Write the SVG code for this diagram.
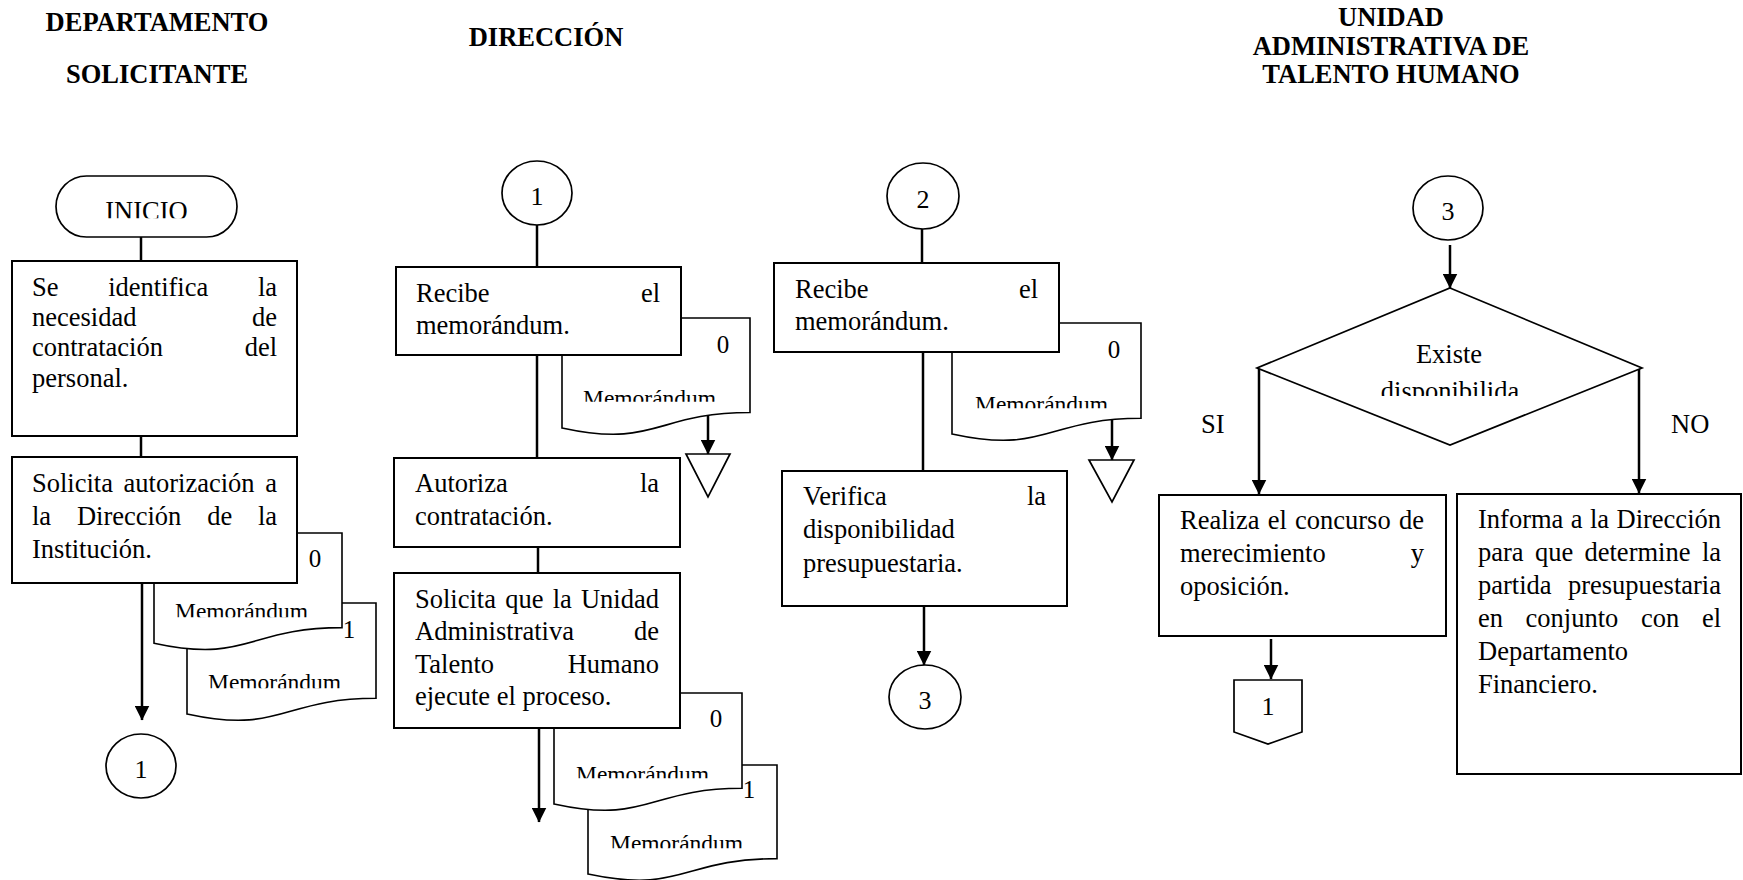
<svg xmlns="http://www.w3.org/2000/svg" width="1743" height="880" viewBox="0 0 1743 880">
<style>
text{font-family:"Liberation Serif","Times New Roman",serif;fill:#000}
.h{font-weight:bold;font-size:26.5px;text-anchor:middle}
.t{font-size:26.5px}
.e{text-anchor:end}
.c{text-anchor:middle}
.m{font-size:23.5px}
.d{font-size:25px;text-anchor:middle}
.n{font-size:26px;text-anchor:middle}
.box{fill:#fff;stroke:#000;stroke-width:2}
.doc{fill:#fff;stroke:#000;stroke-width:1.6}
.sh{fill:#fff;stroke:#000;stroke-width:1.7}
.ln{stroke:#000;stroke-width:2.5;fill:none}
.ar{marker-end:url(#ah)}
</style>
<defs>
<marker id="ah" markerUnits="userSpaceOnUse" markerWidth="15" markerHeight="15" viewBox="0 0 15 15" refX="14.5" refY="7.5" orient="auto"><path d="M0,0 L15,7.5 L0,15 Z" fill="#000"/></marker>
<clipPath id="k1"><rect x="0" y="0" width="1743" height="617.3"/></clipPath>
<clipPath id="k2"><rect x="0" y="0" width="1743" height="688.3"/></clipPath>
<clipPath id="k3"><rect x="0" y="0" width="1743" height="401.7"/></clipPath>
<clipPath id="k4"><rect x="0" y="0" width="1743" height="778.3"/></clipPath>
<clipPath id="k5"><rect x="0" y="0" width="1743" height="848.3"/></clipPath>
<clipPath id="k6"><rect x="0" y="0" width="1743" height="408.3"/></clipPath>
<clipPath id="k7"><rect x="0" y="0" width="1743" height="218.3"/></clipPath>
<clipPath id="k8"><rect x="0" y="0" width="1743" height="396"/></clipPath>
</defs>
<rect x="0" y="0" width="1743" height="880" fill="#fff"/>

<g id="headers">
<text class="h" x="157" y="31">DEPARTAMENTO</text>
<text class="h" x="157" y="83">SOLICITANTE</text>
<text class="h" x="546" y="46">DIRECCIÓN</text>
<text class="h" x="1391" y="26">UNIDAD</text>
<text class="h" x="1391" y="55">ADMINISTRATIVA DE</text>
<text class="h" x="1391" y="83">TALENTO HUMANO</text>
</g>

<g id="connectors">
<line class="ln" x1="141" y1="237" x2="141" y2="262"/>
<line class="ln" x1="141" y1="436" x2="141" y2="458"/>
<line class="ln ar" x1="142" y1="583" x2="142" y2="720"/>
<line class="ln" x1="537" y1="225" x2="537" y2="268"/>
<line class="ln" x1="537" y1="355" x2="537" y2="459"/>
<line class="ln" x1="538" y1="547" x2="538" y2="574"/>
<line class="ln ar" x1="539" y1="728" x2="539" y2="822"/>
<line class="ln ar" x1="708" y1="412" x2="708" y2="454"/>
<line class="ln" x1="922" y1="229" x2="922" y2="264"/>
<line class="ln" x1="923" y1="352" x2="923" y2="472"/>
<line class="ln ar" x1="924" y1="606" x2="924" y2="665"/>
<line class="ln ar" x1="1112" y1="418" x2="1112" y2="460"/>
<line class="ln ar" x1="1450" y1="245" x2="1450" y2="288"/>
<line class="ln ar" x1="1259" y1="368" x2="1259" y2="494"/>
<line class="ln ar" x1="1639" y1="368" x2="1639" y2="493"/>
<line class="ln ar" x1="1271" y1="639" x2="1271" y2="679"/>
<text class="t" x="1201" y="433">SI</text>
<text class="t" x="1671" y="433">NO</text>
</g>

<g id="inicio">
<rect class="sh" x="56" y="176" width="181" height="61" rx="30.5" ry="30.5"/>
<text class="t c" x="146.5" y="219.5" clip-path="url(#k7)">INICIO</text>
</g>

<g id="doc-c1-1">
<path class="doc" d="M187,603 H376 V698.3 C281.5,698.3 281.5,734.6 187,714 Z"/>
<text class="d" x="349" y="638">1</text>
<text class="m" x="208" y="689.6" clip-path="url(#k2)">Memorándum</text>
</g>
<g id="doc-c1-0">
<path class="doc" d="M154,533 H342 V627.6 C248,627.6 248,663.7 154,643.2 Z"/>
<text class="d" x="315" y="567">0</text>
<text class="m" x="175" y="618.9" clip-path="url(#k1)">Memorándum</text>
</g>

<g id="box-identifica">
<rect class="box" x="12" y="261" width="285" height="175"/>
<text class="t" x="32" y="296">Se</text>
<text class="t" x="108.2" y="296">identifica</text>
<text class="t e" x="277" y="296">la</text>
<text class="t" x="32" y="326">necesidad</text>
<text class="t e" x="277" y="326">de</text>
<text class="t" x="32" y="356">contratación</text>
<text class="t e" x="277" y="356">del</text>
<text class="t" x="32" y="387">personal.</text>
</g>

<g id="box-solicita-aut">
<rect class="box" x="12" y="457" width="285" height="126"/>
<text class="t" x="32" y="492">Solicita</text>
<text class="t" x="123.6" y="492">autorización</text>
<text class="t e" x="277" y="492">a</text>
<text class="t" x="32" y="525">la</text>
<text class="t" x="76.9" y="525">Dirección</text>
<text class="t" x="207.2" y="525">de</text>
<text class="t e" x="277" y="525">la</text>
<text class="t" x="32" y="558">Institución.</text>
</g>

<g id="conn-c1-1">
<ellipse class="sh" cx="141" cy="766" rx="35" ry="32"/>
<text class="n" x="141" y="778">1</text>
</g>

<g id="conn-c2-1">
<ellipse class="sh" cx="537" cy="193" rx="35" ry="32"/>
<text class="n" x="537" y="205">1</text>
</g>

<g id="doc-c2-r">
<path class="doc" d="M562,318 H750 V412.5 C656,412.5 656,448.5 562,428 Z"/>
<text class="d" x="723" y="353">0</text>
<text class="m" x="583" y="406.3" clip-path="url(#k3)">Memorándum</text>
</g>

<g id="box-recibe-1">
<rect class="box" x="396" y="267" width="285" height="88"/>
<text class="t" x="416" y="302">Recibe</text>
<text class="t e" x="660" y="302">el</text>
<text class="t" x="416" y="334">memorándum.</text>
</g>

<g id="archivo-c2">
<polygon class="sh" points="686,454 730,454 708,497"/>
</g>

<g id="box-autoriza">
<rect class="box" x="394" y="458" width="286" height="89"/>
<text class="t" x="415" y="492">Autoriza</text>
<text class="t e" x="659" y="492">la</text>
<text class="t" x="415" y="525">contratación.</text>
</g>

<g id="doc-c2-1">
<path class="doc" d="M588,765 H777 V858.6 C682.5,858.6 682.5,894.2 588,874 Z"/>
<text class="d" x="749" y="798">1</text>
<text class="m" x="610" y="850.6" clip-path="url(#k5)">Memorándum</text>
</g>
<g id="doc-c2-0">
<path class="doc" d="M554,693 H742 V788.3 C648,788.3 648,824.6 554,804 Z"/>
<text class="d" x="716" y="727">0</text>
<text class="m" x="576" y="781.6" clip-path="url(#k4)">Memorándum</text>
</g>

<g id="box-solicita-uath">
<rect class="box" x="394" y="573" width="286" height="155"/>
<text class="t" x="415" y="608">Solicita</text>
<text class="t" x="505.2" y="608">que</text>
<text class="t" x="552.7" y="608">la</text>
<text class="t e" x="659" y="608">Unidad</text>
<text class="t" x="415" y="640">Administrativa</text>
<text class="t e" x="659" y="640">de</text>
<text class="t" x="415" y="673">Talento</text>
<text class="t e" x="659" y="673">Humano</text>
<text class="t" x="415" y="705">ejecute el proceso.</text>
</g>

<g id="conn-c3-2">
<ellipse class="sh" cx="923" cy="196" rx="36" ry="33"/>
<text class="n" x="923" y="208">2</text>
</g>

<g id="doc-c3">
<path class="doc" d="M952,323 H1141 V418.3 C1046.5,418.3 1046.5,454.6 952,434 Z"/>
<text class="d" x="1114" y="358">0</text>
<text class="m" x="975" y="412.3" clip-path="url(#k6)">Memorándum</text>
</g>

<g id="box-recibe-2">
<rect class="box" x="774" y="263" width="285" height="89"/>
<text class="t" x="795" y="298">Recibe</text>
<text class="t e" x="1038" y="298">el</text>
<text class="t" x="795" y="330">memorándum.</text>
</g>

<g id="archivo-c3">
<polygon class="sh" points="1089,460 1134,460 1112,502"/>
</g>

<g id="box-verifica">
<rect class="box" x="782" y="471" width="285" height="135"/>
<text class="t" x="803" y="505">Verifica</text>
<text class="t e" x="1046" y="505">la</text>
<text class="t" x="803" y="538">disponibilidad</text>
<text class="t" x="803" y="572">presupuestaria.</text>
</g>

<g id="conn-c3-3">
<ellipse class="sh" cx="925" cy="697" rx="36" ry="32"/>
<text class="n" x="925" y="709">3</text>
</g>

<g id="conn-c4-3">
<ellipse class="sh" cx="1448" cy="208" rx="35" ry="32"/>
<text class="n" x="1448" y="220">3</text>
</g>

<g id="decision">
<polygon class="sh" points="1450,288 1642,368 1450,445 1257,368"/>
<text class="t c" x="1449" y="363">Existe</text>
<text class="t c" x="1450" y="400" clip-path="url(#k8)">disponibilida</text>
</g>

<g id="box-realiza">
<rect class="box" x="1159" y="495" width="287" height="141"/>
<text class="t" x="1180" y="529">Realiza</text>
<text class="t" x="1267.7" y="529">el</text>
<text class="t" x="1295" y="529">concurso</text>
<text class="t e" x="1424" y="529">de</text>
<text class="t" x="1180" y="562">merecimiento</text>
<text class="t e" x="1424" y="562">y</text>
<text class="t" x="1180" y="595">oposición.</text>
</g>

<g id="offpage-1">
<polygon class="sh" points="1234,680 1302,680 1302,732 1268,744 1234,732"/>
<text class="n" x="1268" y="715">1</text>
</g>

<g id="box-informa">
<rect class="box" x="1457" y="494" width="284" height="280"/>
<text class="t" x="1478" y="528">Informa</text>
<text class="t" x="1570.8" y="528">a</text>
<text class="t" x="1590" y="528">la</text>
<text class="t e" x="1721" y="528">Dirección</text>
<text class="t" x="1478" y="561">para</text>
<text class="t" x="1534.9" y="561">que</text>
<text class="t" x="1584.5" y="561">determine</text>
<text class="t e" x="1721" y="561">la</text>
<text class="t" x="1478" y="594">partida</text>
<text class="t e" x="1721" y="594">presupuestaria</text>
<text class="t" x="1478" y="627">en</text>
<text class="t" x="1525.6" y="627">conjunto</text>
<text class="t" x="1641" y="627">con</text>
<text class="t e" x="1721" y="627">el</text>
<text class="t" x="1478" y="660">Departamento</text>
<text class="t" x="1478" y="693">Financiero.</text>
</g>
</svg>
